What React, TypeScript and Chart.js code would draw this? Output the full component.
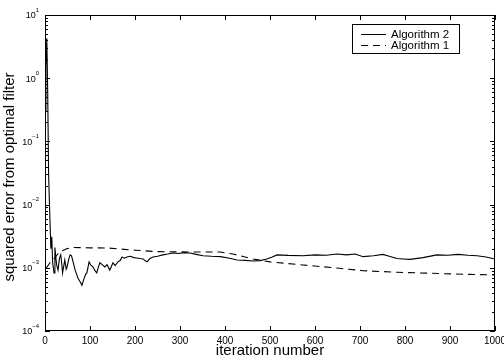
import React, { useEffect, useRef } from "react";
import { Chart, registerables } from "chart.js";

Chart.register(...registerables);

const alg2Iter = [0, 2, 4, 6, 8, 11, 13, 15, 17, 20, 22, 24, 26, 29, 32, 35, 37, 39, 42, 44, 47, 49, 53, 56, 59, 63, 67, 70, 73, 78, 82, 86, 90, 93, 98, 102, 107, 111, 115, 118, 122, 127, 133, 138, 144, 151, 156, 162, 167, 171, 176, 182, 190, 197, 204, 211, 218, 222, 227, 233, 240, 250, 262, 273, 284, 296, 310, 322, 336, 351, 370, 390, 410, 427, 445, 462, 478, 493, 505, 516, 540, 573, 600, 625, 649, 670, 689, 707, 730, 751, 765, 782, 796, 811, 840, 871, 895, 918, 940, 960, 980, 1000];
const alg2Err = [0.3, 1.5, 4.3, 0.6, 0.03, 0.0057, 0.002, 0.0031, 0.0012, 0.00083, 0.0021, 0.00148, 0.0011, 0.00092, 0.0014, 0.0016, 0.0012, 0.00083, 0.0011, 0.00133, 0.00095, 0.00103, 0.0014, 0.0016, 0.00155, 0.0012, 0.00092, 0.0008, 0.00069, 0.0006, 0.00053, 0.00065, 0.00078, 0.00083, 0.00124, 0.0011, 0.00103, 0.0009, 0.00083, 0.001, 0.0012, 0.00112, 0.00103, 0.00112, 0.00092, 0.0012, 0.00108, 0.00124, 0.0013, 0.00148, 0.00142, 0.00148, 0.00152, 0.00145, 0.00143, 0.0014, 0.00138, 0.0013, 0.00124, 0.0014, 0.00148, 0.00152, 0.0016, 0.00165, 0.00171, 0.00168, 0.00174, 0.00171, 0.00163, 0.00155, 0.00152, 0.0015, 0.00142, 0.00133, 0.00131, 0.00128, 0.0013, 0.00138, 0.00148, 0.0016, 0.00157, 0.00155, 0.0016, 0.00158, 0.00165, 0.0016, 0.00165, 0.0015, 0.00155, 0.00163, 0.00152, 0.0014, 0.00138, 0.00136, 0.00145, 0.0016, 0.00158, 0.00163, 0.00158, 0.00155, 0.00148, 0.00138];

const alg1Iter = [2, 4, 11, 22, 33, 48, 63, 100, 138, 200, 249, 316, 389, 418, 462, 500, 573, 649, 707, 782, 856, 929, 1000];
const alg1Err = [0.001, 0.00102, 0.0012, 0.00145, 0.0018, 0.002, 0.0021, 0.00207, 0.00206, 0.0019, 0.0018, 0.00178, 0.00178, 0.00165, 0.00138, 0.00124, 0.00111, 0.00099, 0.0009, 0.00085, 0.00082, 0.00079, 0.00077];

const xTicks = [0, 100, 200, 300, 400, 500, 600, 700, 800, 900, 1000];
const yExponents = [1, 0, -1, -2, -3, -4];
const seriesNames = ["Algorithm 2", "Algorithm 1"];
const xTitle = "iteration number";
const yTitle = "squared error from optimal filter";

const FONT = '"Liberation Sans", Arial, Helvetica, sans-serif';

const axesPlugin = {
  id: "matlabAxes",
  afterDraw(chart: any) {
    const ctx = chart.ctx;
    const a = chart.chartArea;
    const xs = chart.scales.x;
    const ys = chart.scales.y;
    ctx.save();
    ctx.strokeStyle = "#000";
    ctx.fillStyle = "#000";
    ctx.lineWidth = 1;
    ctx.setLineDash([]);
    ctx.strokeRect(a.left + 0.5, a.top + 0.5, a.right - a.left - 1, a.bottom - a.top - 1);
    ctx.beginPath();
    for (const t of xTicks) {
      const px = Math.round(xs.getPixelForValue(t)) + 0.5;
      ctx.moveTo(px, a.bottom);
      ctx.lineTo(px, a.bottom - 5);
      ctx.moveTo(px, a.top);
      ctx.lineTo(px, a.top + 5);
    }
    for (const e of yExponents) {
      const py = Math.round(ys.getPixelForValue(Math.pow(10, e))) + 0.5;
      ctx.moveTo(a.left, py);
      ctx.lineTo(a.left + 5, py);
      ctx.moveTo(a.right, py);
      ctx.lineTo(a.right - 5, py);
      if (e > -4) {
        for (let m = 2; m <= 9; m++) {
          const v = m * Math.pow(10, e - 1);
          const pm = Math.round(ys.getPixelForValue(v)) + 0.5;
          ctx.moveTo(a.left, pm);
          ctx.lineTo(a.left + 3, pm);
          ctx.moveTo(a.right, pm);
          ctx.lineTo(a.right - 3, pm);
        }
      }
    }
    ctx.stroke();
    ctx.font = `10px ${FONT}`;
    ctx.textAlign = "center";
    ctx.textBaseline = "top";
    for (const t of xTicks) {
      ctx.fillText(String(t), xs.getPixelForValue(t), a.bottom + 5);
    }
    for (const e of yExponents) {
      const py = ys.getPixelForValue(Math.pow(10, e));
      const expStr = e < 0 ? "\u2212" + Math.abs(e) : String(e);
      ctx.font = `6px ${FONT}`;
      const ew = ctx.measureText(expStr).width;
      ctx.textAlign = "right";
      ctx.textBaseline = "middle";
      const right = a.left - 6;
      ctx.fillText(expStr, right, py - 5);
      ctx.font = `9px ${FONT}`;
      ctx.fillText("10", right - ew, py + 1);
    }
    ctx.font = `15px ${FONT}`;
    ctx.textAlign = "center";
    ctx.textBaseline = "middle";
    ctx.fillText(xTitle, (a.left + a.right) / 2, 351);
    ctx.save();
    ctx.translate(10, (a.top + a.bottom) / 2 + 4);
    ctx.rotate(-Math.PI / 2);
    ctx.font = `15px ${FONT}`;
    ctx.fillText(yTitle, 0, 0);
    ctx.restore();
    ctx.fillStyle = "#fff";
    ctx.fillRect(352.5, 24.5, 107, 29);
    ctx.strokeStyle = "#000";
    ctx.lineWidth = 1;
    ctx.strokeRect(352.5, 24.5, 107, 29);
    ctx.fillStyle = "#000";
    ctx.font = `11.5px ${FONT}`;
    ctx.textAlign = "left";
    ctx.textBaseline = "middle";
    const rows = [34, 45];
    chart.data.datasets.forEach((ds: any, i: number) => {
      const y = rows[i] + 0.5;
      ctx.beginPath();
      ctx.setLineDash(ds.borderDash || []);
      ctx.moveTo(361, y);
      ctx.lineTo(386, y);
      ctx.stroke();
      ctx.setLineDash([]);
      ctx.fillText(ds.label, 391, rows[i] + 1);
    });
    ctx.restore();
  },
};

export default function App() {
  const ref = useRef<HTMLCanvasElement | null>(null);
  useEffect(() => {
    if (!ref.current) return;
    const chart = new Chart(ref.current, {
      type: "line",
      data: {
        datasets: [
          {
            label: seriesNames[0],
            data: alg2Iter.map((x, i) => ({ x, y: alg2Err[i] })),
            borderColor: "#000",
            borderWidth: 1.1,
            pointRadius: 0,
            tension: 0,
            fill: false,
          },
          {
            label: seriesNames[1],
            data: alg1Iter.map((x, i) => ({ x, y: alg1Err[i] })),
            borderColor: "#000",
            borderWidth: 1.1,
            borderDash: [7, 5],
            pointRadius: 0,
            tension: 0,
            fill: false,
          },
        ],
      },
      options: {
        animation: false,
        responsive: true,
        maintainAspectRatio: false,
        layout: { padding: { left: 45, right: 9, top: 15, bottom: 28 } },
        plugins: { legend: { display: false }, tooltip: { enabled: false } },
        scales: {
          x: { type: "linear", min: 0, max: 1000, display: false },
          y: { type: "logarithmic", min: 1e-4, max: 10, display: false },
        },
      },
      plugins: [axesPlugin],
    });
    return () => chart.destroy();
  }, []);
  return (
    <div style={{ position: "fixed", left: 0, top: 0, width: 504, height: 359, background: "#fff" }}>
      <canvas ref={ref} />
    </div>
  );
}
